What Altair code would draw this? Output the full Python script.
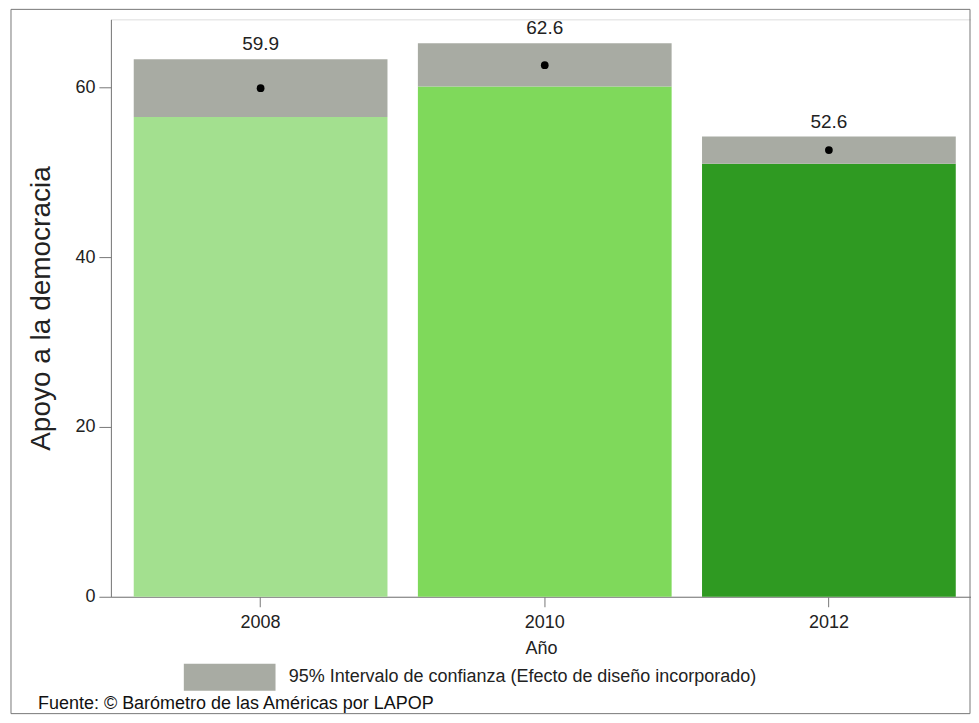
import altair as alt
import pandas as pd

years = ["2008", "2010", "2012"]
means = [59.9, 62.6, 52.6]
ci_low = [56.5, 60.1, 51.0]
ci_high = [63.3, 65.2, 54.2]
bar_colors = ["#a3e08f", "#7fd95b", "#2f9a22"]
ci_label = "95% Intervalo de confianza (Efecto de diseño incorporado)"
source_text = "Fuente: © Barómetro de las Américas por LAPOP"

W, H = 861, 578
FONT = "Liberation Sans"

df = pd.DataFrame({"Año": years, "media": means, "lo": ci_low, "hi": ci_high,
                   "ci": [ci_label] * len(years)})

x_enc = alt.X("Año:N", title="Año",
              scale=alt.Scale(paddingInner=0.107, paddingOuter=0.067, align=0.6),
              axis=alt.Axis(labelAngle=0, labelFontSize=18, titleFontSize=18,
                            titleFontWeight="normal", tickSize=10, labelPadding=7,
                            titlePadding=8, labelFont=FONT, titleFont=FONT,
                            labelColor="#222", titleColor="#222",
                            domainColor="#777", tickColor="#777"))
y_scale = alt.Scale(domain=[0, 68], nice=False)

base = alt.Chart(df)

bars = base.mark_bar().encode(
    x=x_enc,
    y=alt.Y("lo:Q", scale=y_scale, title="Apoyo a la democracia",
            axis=alt.Axis(values=[0, 20, 40, 60], grid=False, tickSize=12,
                          labelPadding=4, labelFontSize=18, titleFontSize=28,
                          titleFontWeight="normal", titlePadding=19,
                          labelFont=FONT, titleFont=FONT, labelColor="#222",
                          titleColor="#222", domainColor="#777", tickColor="#777")),
    color=alt.Color("Año:N", scale=alt.Scale(domain=years, range=bar_colors), legend=None),
)

band = base.mark_bar().encode(
    x=alt.X("Año:N"),
    y=alt.Y("lo:Q", scale=y_scale),
    y2="hi:Q",
    fill=alt.Fill("ci:N", scale=alt.Scale(domain=[ci_label], range=["#a8aba3"]),
                  legend=alt.Legend(title=None, orient="none", legendX=73, legendY=645,
                                    symbolType="M-1,-1L5.8,-1L5.8,1L-1,1Z",
                                    symbolSize=729, symbolStrokeWidth=0,
                                    symbolOpacity=1, labelFontSize=18, labelFont=FONT,
                                    labelColor="#222", labelOffset=78,
                                    labelLimit=800, padding=0)),
)

dots = base.mark_point(filled=True, color="black", size=60, opacity=1).encode(
    x=alt.X("Año:N"),
    y=alt.Y("media:Q", scale=y_scale),
)

labels = base.mark_text(baseline="bottom", dy=-5, fontSize=19, font=FONT,
                        color="#222").encode(
    x=alt.X("Año:N"),
    y=alt.Y("hi:Q", scale=y_scale),
    text=alt.Text("media:Q", format=".1f"),
)

one = pd.DataFrame({"t": [source_text]})
source = alt.Chart(one).mark_text(align="left", baseline="middle", fontSize=18,
                                  font=FONT, color="#111").encode(
    x=alt.value(-73), y=alt.value(685), text="t:N")

frame = alt.Chart(one).mark_rect(fill="transparent", stroke="#777",
                                 strokeWidth=1).encode(
    x=alt.value(-100), x2=alt.value(W - 1), y=alt.value(-10), y2=alt.value(695))

chart = alt.layer(frame, bars, band, dots, labels, source).properties(
    width=W, height=H,
    padding={"left": 2, "top": 0, "right": 0, "bottom": 0},
).configure_view(stroke=None).configure(background="white")

chart.save("out.html", embed_options={"renderer": "svg", "actions": False})
